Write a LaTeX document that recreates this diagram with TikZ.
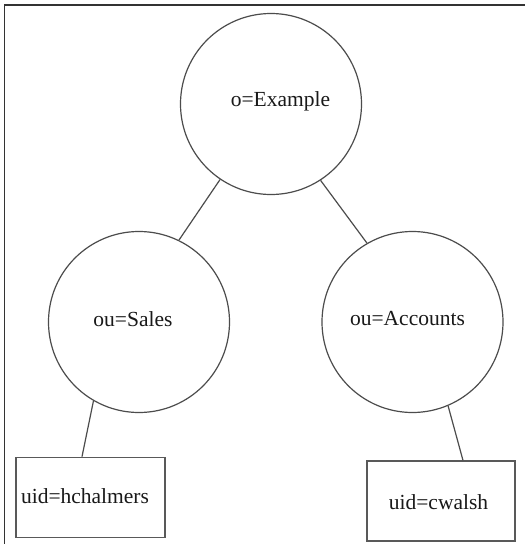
\documentclass[tikz,border=0pt]{standalone}
\usepackage{fontspec}
\setmainfont{Liberation Serif}
\begin{document}
\begin{tikzpicture}[x=1pt,y=-1pt,
  circ/.style={draw=black!70,line width=1.2pt,circle,minimum size=181pt,inner sep=0pt},
  leaf/.style={draw=black!65,line width=1.2pt,rectangle,inner sep=0pt},
  conn/.style={draw=black!70,line width=1.2pt},
  lbl/.style={font=\fontsize{21.5}{24}\selectfont,inner sep=0pt,text=black!90}]
\useasboundingbox (0,0) rectangle (525,544);
\fill[white] (0,0) rectangle (525,544);
\coordinate (fa) at (4.5,544);
\coordinate (fb) at (4.5,5);
\coordinate (fc) at (525,5);
\draw[black!80,line width=1.5pt] (fa) -- (fb) -- (fc);
% nodes
\node[circ] (org) at (271,104) {};
\node[circ] (sales) at (139,322) {};
\node[circ] (acc) at (412.5,322) {};
\node[leaf,minimum width=149pt,minimum height=80.5pt] (hch) at (90.5,497.5) {};
\node[leaf,minimum width=148pt,minimum height=80pt] (cw) at (441,501) {};
% labels
\node[lbl] (torg) at (280.5,101) {o=Example};
\node[lbl] (tsales) at (133,319) {ou=Sales};
\node[lbl] (tacc) at (407.5,319) {ou=Accounts};
\node[lbl] (thch) at (85,496) {uid=hchalmers};
\node[lbl] (tcw) at (438.5,502) {uid=cwalsh};
% connectors
\draw[conn] (org.236) -- (sales.64);
\draw[conn] (org.303) -- (acc.120);
\draw[conn] (sales.240) -- ([xshift=-8.5pt]hch.north);
\draw[conn] (acc.293) -- ([xshift=22pt]cw.north);
\end{tikzpicture}
\end{document}
